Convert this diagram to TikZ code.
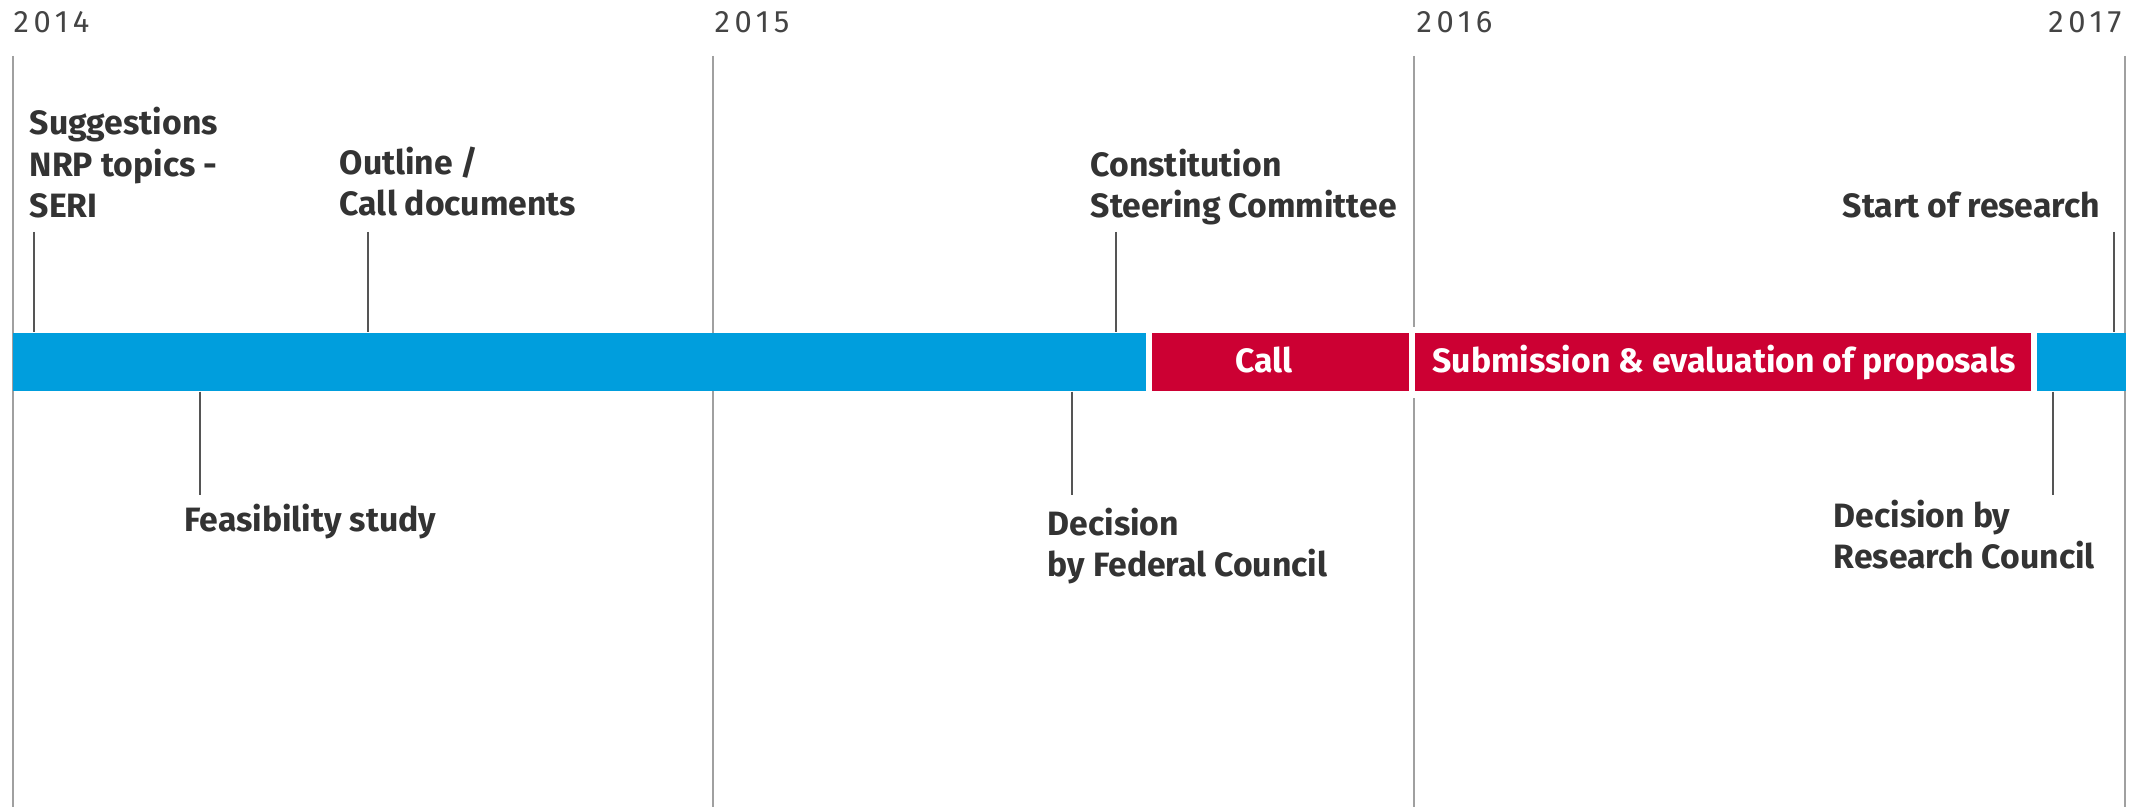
\documentclass[tikz,border=0pt]{standalone}
\usepackage{fontspec}
\setmainfont{Fira Sans}
\definecolor{nfblue}{HTML}{009EDD}
\definecolor{nfred}{HTML}{CC0033}
\definecolor{txtgray}{HTML}{333333}
\definecolor{yeargray}{HTML}{444444}
\definecolor{yearline}{HTML}{A0A0A0}
\definecolor{tickgray}{HTML}{555555}
\begin{document}
\begin{tikzpicture}[x=0.01cm,y=-0.01cm,
  yearlab/.style={anchor=base west, inner sep=0, font=\fontsize{8.8}{11}\selectfont\addfontfeature{LetterSpace=15}, text=yeargray},
  lab/.style={anchor=base west, inner sep=0, align=left, font=\fontsize{9.6}{11.8}\selectfont\bfseries, text=txtgray},
  barlab/.style={anchor=base, inner sep=0, font=\fontsize{9.6}{11.8}\selectfont\bfseries, text=white},
  yearln/.style={draw=yearline, line width=0.014cm},
  tk/.style={draw=tickgray, line width=0.02cm},
  seg/.style={inner sep=0, minimum height=0.58cm, anchor=center}
]
\useasboundingbox[fill=white] (0,0) rectangle (2141,807);

% year labels
\node[yearlab] (y14) at (13,33) {2014};
\node[yearlab] (y15) at (714,33) {2015};
\node[yearlab] (y16) at (1416,33) {2016};
\node[yearlab, anchor=base east] (y17) at (2122,33) {2017};

% year lines
\coordinate (l14) at (13,56);
\coordinate (l15) at (713,56);
\coordinate (l16) at (1414,56);
\coordinate (l17) at (2125,56);
\draw[yearln] (l14) -- (13,807);
\draw[yearln] (l15) -- (713,807);
\draw[yearln] (l16) -- (1414,807);
\draw[yearln] (l17) -- (2125,807);
\fill[white] (1409,327) rectangle (1419,398);

% bar segments
\node[seg, fill=nfblue, minimum width=11.33cm] (b1) at (579.5,362) {};
\node[seg, fill=nfred, minimum width=2.57cm] (call) at (1280.5,362) {};
\node[seg, fill=nfred, minimum width=6.16cm] (sub) at (1723,362) {};
\node[seg, fill=nfblue, minimum width=0.89cm] (b2) at (2081.5,362) {};
\node[barlab] (callt) at (1264,373) {Call};
\node[barlab] (subt) at (1724,373) {Submission \& evaluation of proposals};

% labels above (base anchor = baseline of last line)
\node[lab] (sugg) at (29,218) {Suggestions\\NRP topics -\\SERI};
\node[lab] (outl) at (339,216) {Outline /\\Call documents};
\node[lab] (const) at (1090,218) {Constitution\\Steering Committee};
\node[lab] (start) at (1842,218) {Start of research};

% labels below
\node[lab] (feas) at (184,532) {Feasibility study};
\node[lab] (decfc) at (1047,577) {Decision\\by Federal Council};
\node[lab] (decrc) at (1833,569) {Decision by\\Research Council};

% ticks
\coordinate (tsugg) at (34,232);
\coordinate (toutl) at (368,232);
\coordinate (tconst) at (1116,232);
\coordinate (tstart) at (2114,232);
\coordinate (tfeas) at (200,495);
\coordinate (tdecfc) at (1072,495);
\coordinate (tdecrc) at (2053,495);
\draw[tk] (tsugg) -- (tsugg |- b1.north);
\draw[tk] (toutl) -- (toutl |- b1.north);
\draw[tk] (tconst) -- (tconst |- b1.north);
\draw[tk] (tstart) -- (tstart |- b2.north);
\draw[tk] (b1.south -| tfeas) -- (tfeas);
\draw[tk] (b1.south -| tdecfc) -- (tdecfc);
\draw[tk] (sub.south -| tdecrc) -- (tdecrc);
\end{tikzpicture}
\end{document}
